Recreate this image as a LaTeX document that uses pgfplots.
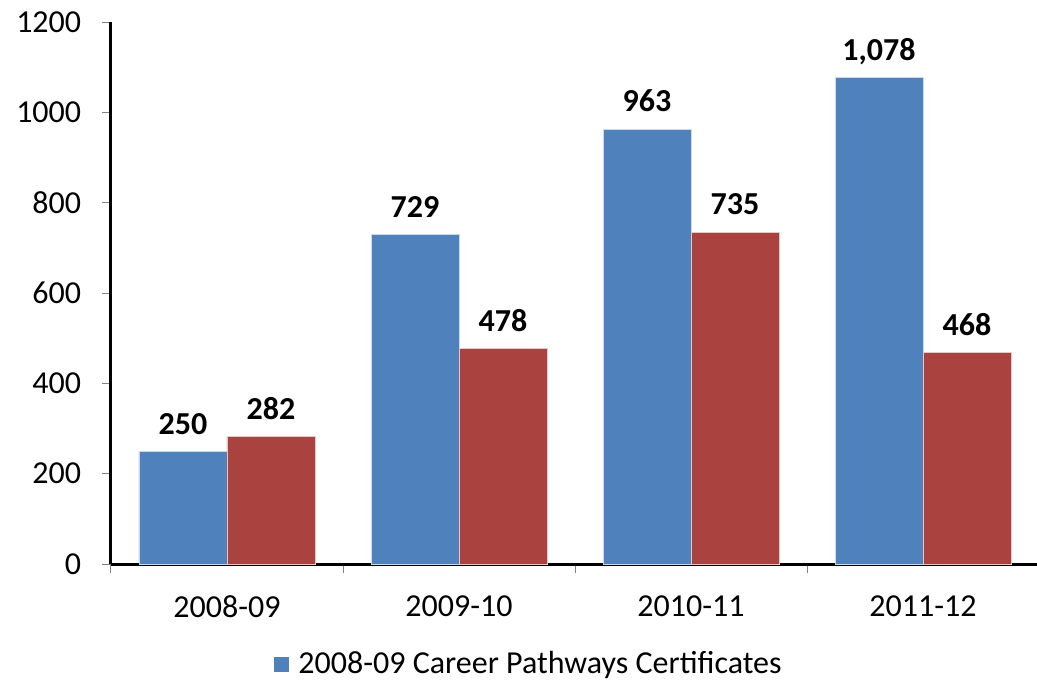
\documentclass[border=0pt]{standalone}
\usepackage{pgfplots}
\pgfplotsset{compat=1.18}
\usepackage{fontspec}
\setmainfont{Carlito}
\definecolor{barblue}{HTML}{4F81BD}
\definecolor{barred}{HTML}{AA4240}
\begin{document}
\fontsize{32}{38}\selectfont
\begin{tikzpicture}
\useasboundingbox (0,0) rectangle (1037pt,-683pt);
\begin{axis}[
  at={(111pt,-564pt)}, anchor=south west,
  scale only axis, width=928pt, height=542pt,
  xmin=-0.5, xmax=3.5, ymin=0, ymax=1200,
  axis x line*=bottom, axis y line*=left,
  axis line style={black, line width=3pt},
  ybar=0pt, bar width=88pt,
  ytick={0,200,...,1200},
  yticklabel style={/pgf/number format/1000 sep={}},
  xtick={-0.5,0.5,1.5,2.5,3.5}, xticklabels={},
  extra x ticks={0,1,2,3},
  extra x tick labels={2008-09,2009-10,2010-11,2011-12},
  extra x tick style={major tick length=0pt},
  tick style={gray, line width=1pt},
  major tick length=9pt, tick align=outside,
  xticklabel style={yshift=-21pt},
  yticklabel style={xshift=-10pt},
  /pgf/number format/assume math mode=true,
  nodes near coords,
  nodes near coords style={font=\bfseries, yshift=6pt, text depth=0pt,
    /pgf/number format/1000 sep={,}},
  legend style={draw=none, at={(0.45,-0.186)}, anchor=center},
  legend image code/.code={\fill[barblue] (0pt,-7pt) rectangle (14pt,7pt);
    \path (22pt,0pt);},
  clip=false,
]
\addplot[fill=barblue, draw=white!70!barblue, line width=0.8pt]
  coordinates {(0,250) (1,729) (2,963) (3,1078)};
\addlegendentry{2008-09 Career Pathways Certificates}
\addplot[fill=barred, draw=white!70!barred, line width=0.8pt]
  coordinates {(0,282) (1,478) (2,735) (3,468)};
\end{axis}
\end{tikzpicture}
\end{document}
